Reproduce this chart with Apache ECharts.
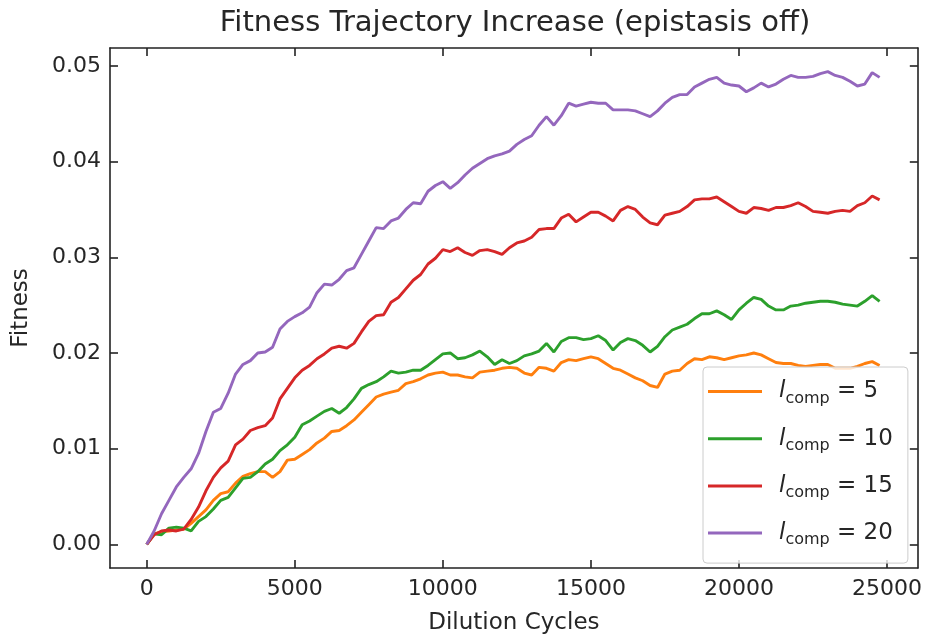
<!DOCTYPE html>
<html>
<head>
<meta charset="utf-8">
<script src="https://cdn.jsdelivr.net/npm/echarts@6/dist/echarts.min.js"></script>
<style>
  html, body { margin: 0; padding: 0; background: #fff; }
  #chart { width: 925px; height: 640px; }
</style>
</head>
<body>
<div id="chart"></div>
<script>
// Dilution cycle at which fitness was recorded
const cycles = [
  0, 250, 500, 750, 1000, 1250, 1500, 1750, 2000, 2250,
  2500, 2750, 3000, 3250, 3500, 3750, 4000, 4250, 4500, 4750,
  5000, 5250, 5500, 5750, 6000, 6250, 6500, 6750, 7000, 7250,
  7500, 7750, 8000, 8250, 8500, 8750, 9000, 9250, 9500, 9750,
  10000, 10250, 10500, 10750, 11000, 11250, 11500, 11750, 12000, 12250,
  12500, 12750, 13000, 13250, 13500, 13750, 14000, 14250, 14500, 14750,
  15000, 15250, 15500, 15750, 16000, 16250, 16500, 16750, 17000, 17250,
  17500, 17750, 18000, 18250, 18500, 18750, 19000, 19250, 19500, 19750,
  20000, 20250, 20500, 20750, 21000, 21250, 21500, 21750, 22000, 22250,
  22500, 22750, 23000, 23250, 23500, 23750, 24000, 24250, 24500, 24750
];

// Mean fitness for each compartment size l_comp
const fitComp5 = [
  0, 0.0011, 0.0013, 0.0014, 0.0015, 0.0016, 0.0022, 0.0029, 0.0036, 0.0046,
  0.0053, 0.0055, 0.0064, 0.0071, 0.0074, 0.0076, 0.0076, 0.0070, 0.0076, 0.0088,
  0.0089, 0.0094, 0.0099, 0.0106, 0.0111, 0.0118, 0.0119, 0.0124, 0.0130, 0.0138,
  0.0146, 0.0154, 0.0157, 0.0159, 0.0161, 0.0168, 0.0170, 0.0173, 0.0177, 0.0179,
  0.0180, 0.0177, 0.0177, 0.0175, 0.0174, 0.0180, 0.0181, 0.0182, 0.0184, 0.0185,
  0.0184, 0.0179, 0.0177, 0.0185, 0.0184, 0.0181, 0.0190, 0.0193, 0.0192, 0.0194,
  0.0196, 0.0194, 0.0189, 0.0184, 0.0182, 0.0178, 0.0174, 0.0171, 0.0166, 0.0164,
  0.0178, 0.0181, 0.0182, 0.0189, 0.0194, 0.0193, 0.0196, 0.0195, 0.0193, 0.0195,
  0.0197, 0.0198, 0.0200, 0.0198, 0.0194, 0.0190, 0.0189, 0.0189, 0.0187, 0.0186,
  0.0187, 0.0188, 0.0188, 0.0184, 0.0184, 0.0184, 0.0186, 0.0189, 0.0191, 0.0187
];
const fitComp10 = [
  0, 0.0011, 0.0010, 0.0017, 0.0018, 0.0017, 0.0014, 0.0024, 0.0029, 0.0037,
  0.0046, 0.0049, 0.0059, 0.0069, 0.0070, 0.0076, 0.0084, 0.0089, 0.0098, 0.0104,
  0.0112, 0.0125, 0.0129, 0.0134, 0.0139, 0.0142, 0.0137, 0.0143, 0.0152, 0.0163,
  0.0167, 0.0170, 0.0175, 0.0181, 0.0179, 0.0180, 0.0182, 0.0182, 0.0187, 0.0193,
  0.0199, 0.0200, 0.0194, 0.0195, 0.0198, 0.0202, 0.0196, 0.0188, 0.0193, 0.0189,
  0.0192, 0.0197, 0.0199, 0.0202, 0.0210, 0.0201, 0.0212, 0.0216, 0.0216, 0.0214,
  0.0215, 0.0218, 0.0213, 0.0203, 0.0211, 0.0215, 0.0213, 0.0208, 0.0201, 0.0207,
  0.0217, 0.0224, 0.0227, 0.0230, 0.0236, 0.0241, 0.0241, 0.0244, 0.0240, 0.0235,
  0.0245, 0.0252, 0.0258, 0.0256, 0.0249, 0.0245, 0.0245, 0.0249, 0.0250, 0.0252,
  0.0253, 0.0254, 0.0254, 0.0253, 0.0251, 0.0250, 0.0249, 0.0254, 0.0260, 0.0254
];
const fitComp15 = [
  0, 0.0010, 0.0014, 0.0015, 0.0014, 0.0016, 0.0026, 0.0039, 0.0056, 0.0070,
  0.0080, 0.0087, 0.0104, 0.0110, 0.0119, 0.0122, 0.0124, 0.0132, 0.0152, 0.0163,
  0.0174, 0.0182, 0.0187, 0.0194, 0.0199, 0.0205, 0.0207, 0.0205, 0.0210, 0.0222,
  0.0233, 0.0239, 0.0240, 0.0253, 0.0258, 0.0267, 0.0276, 0.0282, 0.0293, 0.0299,
  0.0308, 0.0306, 0.0310, 0.0305, 0.0302, 0.0307, 0.0308, 0.0306, 0.0303, 0.0310,
  0.0315, 0.0317, 0.0321, 0.0329, 0.0330, 0.0330, 0.0341, 0.0345, 0.0337, 0.0342,
  0.0347, 0.0347, 0.0343, 0.0338, 0.0349, 0.0353, 0.0350, 0.0342, 0.0336, 0.0334,
  0.0344, 0.0346, 0.0348, 0.0353, 0.0360, 0.0361, 0.0361, 0.0363, 0.0358, 0.0353,
  0.0348, 0.0346, 0.0352, 0.0351, 0.0349, 0.0352, 0.0352, 0.0354, 0.0357, 0.0353,
  0.0348, 0.0347, 0.0346, 0.0348, 0.0349, 0.0348, 0.0354, 0.0357, 0.0364, 0.0360
];
const fitComp20 = [
  0, 0.0014, 0.0032, 0.0046, 0.0060, 0.0070, 0.0079, 0.0095, 0.0118, 0.0138,
  0.0142, 0.0158, 0.0178, 0.0188, 0.0192, 0.0200, 0.0201, 0.0206, 0.0225, 0.0233,
  0.0238, 0.0242, 0.0248, 0.0263, 0.0272, 0.0271, 0.0277, 0.0286, 0.0289, 0.0303,
  0.0317, 0.0331, 0.0330, 0.0338, 0.0341, 0.0350, 0.0357, 0.0356, 0.0369, 0.0375,
  0.0379, 0.0372, 0.0378, 0.0386, 0.0393, 0.0398, 0.0403, 0.0406, 0.0408, 0.0411,
  0.0418, 0.0423, 0.0427, 0.0438, 0.0447, 0.0438, 0.0448, 0.0461, 0.0458, 0.0460,
  0.0462, 0.0461, 0.0461, 0.0454, 0.0454, 0.0454, 0.0453, 0.0450, 0.0447, 0.0453,
  0.0461, 0.0467, 0.0470, 0.0470, 0.0478, 0.0482, 0.0486, 0.0488, 0.0482, 0.0480,
  0.0479, 0.0473, 0.0477, 0.0482, 0.0478, 0.0481, 0.0486, 0.0490, 0.0488, 0.0488,
  0.0489, 0.0492, 0.0494, 0.0490, 0.0488, 0.0484, 0.0479, 0.0481, 0.0493, 0.0488
];

const compSizes = [5, 10, 15, 20];
const seriesValues = [fitComp5, fitComp10, fitComp15, fitComp20];
const lineColors = ['#ff7f0e', '#2ca02c', '#d62728', '#9467bd'];

// Tick positions
const xTicks = [0, 5000, 10000, 15000, 20000, 25000];
const yTicks = [0, 0.01, 0.02, 0.03, 0.04, 0.05];

const FONT = "'DejaVu Sans', 'Liberation Sans', sans-serif";
const INK = '#262626';
const FRAME = '#222';

const xRange = { min: -1240, max: 26040 };
const yRange = { min: -0.00247, max: 0.05187 };

function frameAxis(extra) {
  return Object.assign({
    type: 'value',
    splitLine: { show: false },
    axisLine: { show: true, onZero: false, lineStyle: { color: FRAME, width: 1.6 } },
  }, extra);
}

const chart = echarts.init(document.getElementById('chart'), null, { renderer: 'canvas' });

chart.setOption({
  animation: false,
  backgroundColor: '#fff',
  title: {
    text: 'Fitness Trajectory Increase (epistasis off)',
    left: 515,
    top: 9,
    padding: 0,
    textAlign: 'center',
    textStyle: { fontFamily: FONT, fontSize: 29, fontWeight: 'normal', color: INK }
  },
  grid: { left: 110, right: 5, top: 48, bottom: 68, containLabel: false },
  xAxis: [
    frameAxis({
      position: 'bottom',
      min: xRange.min, max: xRange.max,
      name: 'Dilution Cycles',
      nameLocation: 'middle',
      nameGap: 44,
      nameTextStyle: { fontFamily: FONT, fontSize: 23, color: INK },
      axisTick: { show: true, inside: true, length: 8, customValues: xTicks,
                  lineStyle: { color: FRAME, width: 1.6 } },
      axisLabel: { show: true, margin: 10, customValues: xTicks,
                   fontFamily: FONT, fontSize: 22, color: INK,
                   formatter: v => String(v) }
    }),
    frameAxis({
      position: 'top',
      min: xRange.min, max: xRange.max,
      axisTick: { show: true, inside: true, length: 8, customValues: xTicks,
                  lineStyle: { color: FRAME, width: 1.6 } },
      axisLabel: { show: false }
    })
  ],
  yAxis: [
    frameAxis({
      position: 'left',
      min: yRange.min, max: yRange.max,
      name: 'Fitness',
      nameLocation: 'middle',
      nameGap: 77,
      nameTextStyle: { fontFamily: FONT, fontSize: 23, color: INK },
      axisTick: { show: true, inside: true, length: 8, customValues: yTicks,
                  lineStyle: { color: FRAME, width: 1.6 } },
      axisLabel: { show: true, margin: 9, customValues: yTicks,
                   fontFamily: FONT, fontSize: 22, color: INK,
                   formatter: v => v.toFixed(2) }
    }),
    frameAxis({
      position: 'right',
      min: yRange.min, max: yRange.max,
      axisTick: { show: true, inside: true, length: 8, customValues: yTicks,
                  lineStyle: { color: FRAME, width: 1.6 } },
      axisLabel: { show: false }
    })
  ],
  legend: {
    orient: 'vertical',
    left: 703,
    top: 367,
    padding: [13, 15, 15, 5],
    itemGap: 20.7,
    itemWidth: 54,
    itemHeight: 3,
    icon: 'rect',
    backgroundColor: 'rgba(255,255,255,0.8)',
    borderColor: '#cccccc',
    borderWidth: 1,
    borderRadius: 4,
    formatter: name => {
      const k = name.split('=')[1].trim();
      return '{l|l}{s|comp}{t| = ' + k + '}';
    },
    textStyle: {
      color: INK,
      rich: {
        l: { fontFamily: FONT, fontStyle: 'italic', fontSize: 23, lineHeight: 30,
             padding: [0, 0, 0, 12], color: INK },
        s: { fontFamily: FONT, fontSize: 16, lineHeight: 18, verticalAlign: 'bottom', color: INK },
        t: { fontFamily: FONT, fontSize: 23, lineHeight: 30, color: INK }
      }
    },
    data: compSizes.map(k => 'l_comp = ' + k)
  },
  series: compSizes.map((k, i) => ({
    name: 'l_comp = ' + k,
    type: 'line',
    xAxisIndex: 0,
    yAxisIndex: 0,
    showSymbol: false,
    symbol: 'none',
    smooth: false,
    lineStyle: { color: lineColors[i], width: 2.9 },
    itemStyle: { color: lineColors[i] },
    data: cycles.map((c, j) => [c, seriesValues[i][j]])
  }))
});
</script>
</body>
</html>
